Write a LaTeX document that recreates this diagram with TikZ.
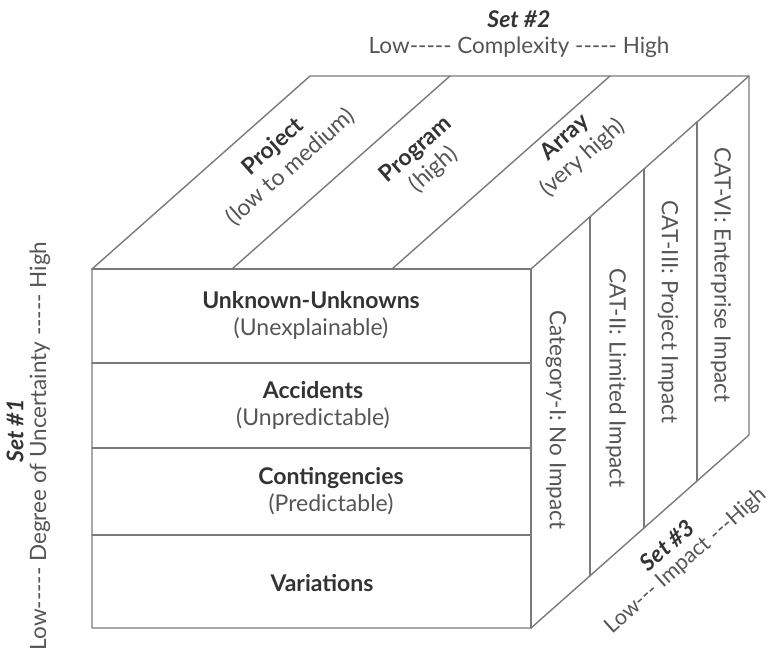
\documentclass[tikz,border=0pt]{standalone}
\usepackage{fontspec}
\setmainfont{Lato}
\definecolor{linegray}{HTML}{7A7A7A}
\definecolor{txtgray}{HTML}{555555}
\definecolor{txtdark}{HTML}{333333}
\newcommand\headtxt[1]{{\color{txtdark}\bfseries #1}}
\newcommand\settxt[1]{{\color{txtdark}\bfseries\itshape #1}}
\begin{document}
\begin{tikzpicture}[x=1pt,y=-1pt]
\tikzset{
  edge/.style={draw=linegray, line width=1.4pt, line join=round, line cap=round},
  lbl/.style={text=txtgray, font=\fontsize{23}{27}\selectfont, align=center, inner sep=0pt},
  sidelbl/.style={lbl, font=\fontsize{22.5}{24}\selectfont},
  setlbl/.style={lbl, font=\fontsize{23}{24}\selectfont}
}
\useasboundingbox (0,0) rectangle (771,651);
% cube corners
\coordinate (A) at (92,269);
\coordinate (B) at (531,269);
\coordinate (C) at (531,628);
\coordinate (D) at (92,628);
\coordinate (E) at (310,76);
\coordinate (F) at (749,76);
\coordinate (G) at (749,435);
% front rows
\coordinate (r1l) at (92,363);  \coordinate (r1r) at (531,363);
\coordinate (r2l) at (92,448);  \coordinate (r2r) at (531,448);
\coordinate (r3l) at (92,535);  \coordinate (r3r) at (531,535);
% top dividers
\coordinate (t1f) at (232,269); \coordinate (t1b) at (450,76);
\coordinate (t2f) at (392,269); \coordinate (t2b) at (610,76);
% right dividers
\coordinate (s1t) at (590,217); \coordinate (s1b) at (590,576);
\coordinate (s2t) at (644,169); \coordinate (s2b) at (644,528);
\coordinate (s3t) at (697,122); \coordinate (s3b) at (697,481);

\draw[edge] (A) -- (E) -- (F) -- (G) -- (C) -- (D) -- cycle;
\draw[edge] (A) -- (B) -- (C);
\draw[edge] (B) -- (F);
\draw[edge] (r1l) -- (r1r);
\draw[edge] (r2l) -- (r2r);
\draw[edge] (r3l) -- (r3r);
\draw[edge] (t1f) -- (t1b);
\draw[edge] (t2f) -- (t2b);
\draw[edge] (s1t) -- (s1b);
\draw[edge] (s2t) -- (s2b);
\draw[edge] (s3t) -- (s3b);

% front face
\node[lbl] (uu) at (311,315) {\headtxt{Unknown-Unknowns}\\(Unexplainable)};
\node[lbl] (acc) at (313,405) {\headtxt{Accidents}\\(Unpredictable)};
\node[lbl] (con) at (331,491) {\headtxt{Contingencies}\\(Predictable)};
\node[lbl] (var) at (322,583) {\headtxt{Variations}};

% top face
\node[lbl, rotate=41.5] (proj) at (282,157) {\headtxt{Project}\\(low to medium)};
\node[lbl, rotate=41.5] (prog) at (425,160) {\headtxt{Program}\\(high)};
\node[lbl, rotate=41.5] (arr) at (574,148) {\headtxt{Array}\\(very high)};

% right face
\node[sidelbl, rotate=-90] (c1) at (556,420) {Category-I: No Impact};
\node[sidelbl, rotate=-90] (c2) at (616,378) {CAT-II: Limited Impact};
\node[sidelbl, rotate=-90] (c3) at (668,312) {CAT-III: Project Impact};
\node[sidelbl, rotate=-90] (c4) at (721,275) {CAT-VI: Enterprise Impact};

% set labels
\node[setlbl] (set2) at (519,19) {\settxt{Set \#2}};
\node[sidelbl] (ax2) at (519,47) {Low-{}-{}-{}-{}- Complexity -{}-{}-{}-{}- High};
\node[setlbl, rotate=90] (set1) at (15,431) {\settxt{Set \#1}};
\node[sidelbl, rotate=90] (ax1) at (40,446) {Low-{}-{}-{}-{}- Degree of Uncertainty -{}-{}-{}-{}- High};
\node[setlbl, rotate=41.5] (set3) at (667,545) {\settxt{Set \#3}};
\node[sidelbl, font=\fontsize{21.5}{24}\selectfont, rotate=41.5] (ax3) at (686,561) {Low-{}-{}- Impact -{}-{}-High};
\end{tikzpicture}
\end{document}
